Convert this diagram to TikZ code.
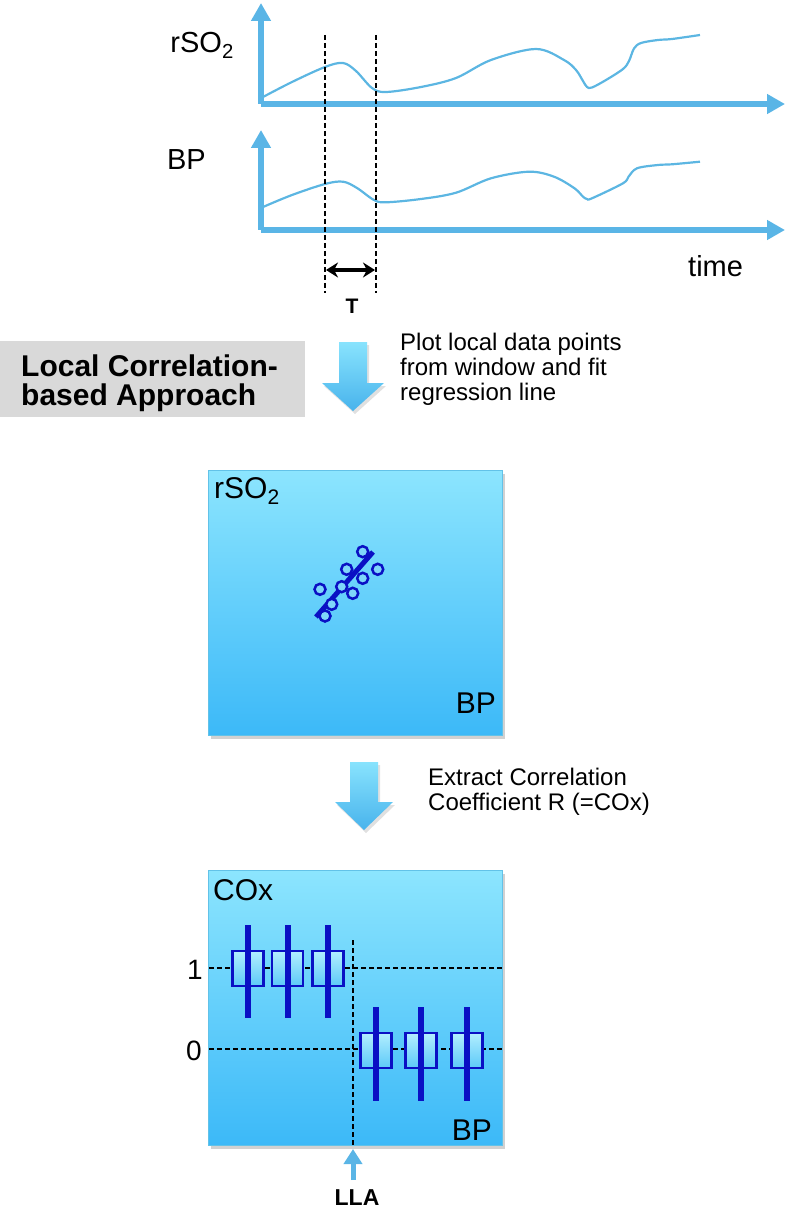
\documentclass[tikz,border=0pt]{standalone}
\usepackage{fontspec}
\setmainfont{Liberation Sans}
\usetikzlibrary{arrows.meta}
\definecolor{axisblue}{HTML}{5AB5E6}
\definecolor{curveblue}{HTML}{5CB6E2}
\definecolor{boxtop}{HTML}{8CE5FE}
\definecolor{boxbot}{HTML}{3CB9F8}
\definecolor{boxedge}{HTML}{62C2E8}
\definecolor{darkblue}{HTML}{0A10C4}
\definecolor{ptfill}{HTML}{7FD6FA}
\definecolor{graybox}{HTML}{D9D9D9}
\definecolor{arrtop}{HTML}{88E3FD}
\definecolor{arrbot}{HTML}{48B3EC}
\definecolor{bxtop}{HTML}{B2EEFF}
\definecolor{bxbot}{HTML}{5CC9F8}
\tikzset{
  axis/.style={axisblue, line width=6, -{Triangle[width=19,length=18]}},
  curve/.style={curveblue, line width=2.2},
  dashline/.style={black, line width=1.8, dash pattern=on 5 off 3},
  lbl/.style={inner sep=0, font=\fontsize{29}{34}\selectfont},
  note/.style={inner sep=0, align=left, font=\fontsize{24}{25}\selectfont},
  bigarrow/.style={top color=arrtop, bottom color=arrbot, draw=none},
  shadowbox/.style={fill=black, opacity=0.18},
  panel/.style={top color=boxtop, bottom color=boxbot},
  paneledge/.style={draw=boxedge, line width=1},
  bxp/.style={draw=darkblue, line width=2.2, top color=bxtop, bottom color=bxbot},
  whisk/.style={darkblue, line width=6},
  pt/.style={draw=darkblue, line width=2.5, fill=ptfill},
}
\begin{document}
\begin{tikzpicture}[x=1pt,y=-1pt]
\useasboundingbox (0,0) rectangle (786,1214);

% ---------- time series ----------
\coordinate (o1) at (261,104);
\coordinate (o2) at (261,230);
\draw[axis] (o1) -- (261,3);
\draw[axis] (o1) -- (785,104);
\draw[axis] (o2) -- (261,130);
\draw[axis] (o2) -- (785,230);

\draw[curve] plot[smooth, tension=0.55] coordinates {(263,97) (292,82) (325,67) (343,63) (356,71) (372,88) (386,92) (421,87) (456,78) (491,60) (536,49) (564,60) (576,70) (583,81) (587,87) (592,87.5) (606,80) (623,69) (629,61) (634,48.5) (641,43) (658,40) (672,39) (700,35)};
\draw[curve] plot[smooth, tension=0.55] coordinates {(263,207) (292,195) (325,184) (343,181.7) (357,188) (374,200) (386,202.3) (421,199) (456,192.7) (491,178.3) (529,171.7) (554,176.7) (574.5,188.3) (583,196.7) (587,199) (592,198.3) (623,183.3) (628.5,176.7) (637,168.3) (658,165) (672,164.3) (700,161.7)};

\node[lbl, anchor=base east] (rso) at (234,53) {rSO\textsubscript{2}};
\node[lbl, anchor=base east] (bp) at (206,170) {BP};
\node[lbl, anchor=base west] (time) at (688,277) {time};

\draw[dashline] (325,35) -- (325,293);
\draw[dashline] (376,35) -- (376,293);
\coordinate (wl) at (326,270);
\coordinate (wr) at (375,270);
\draw[black, line width=4, {Stealth[length=12,width=15]}-{Stealth[length=12,width=15]}] (wl) -- (wr);
\node[inner sep=0, anchor=base, font=\bfseries\fontsize{21}{24}\selectfont] (T) at (352,313) {T};

% ---------- approach label ----------
\fill[graybox] (0,341) rectangle (305,417);
\node[inner sep=0, anchor=base west, align=left, font=\bfseries\fontsize{30}{29}\selectfont] (lca) at (21,405) {Local Correlation-\\based Approach};

% big arrow 1
\fill[shadowbox, opacity=0.12] (341,345) -- (369,345) -- (369,386) -- (386,386) -- (355,414) -- (324,386) -- (341,386) -- cycle;
\shade[bigarrow] (339,342) -- (367,342) -- (367,383) -- (384,383) -- (353,411) -- (322,383) -- (339,383) -- cycle;
\node[note, anchor=north west] (plot) at (400,333) {Plot local data points\\from window and fit\\regression line};

% ---------- scatter panel ----------
\fill[shadowbox] (211,474) rectangle (505,739);
\shade[panel] (208,470) rectangle (502,735);
\draw[paneledge] (208,470) rectangle (502,735);
\node[inner sep=0, anchor=base west, font=\fontsize{30}{34}\selectfont] (rso2) at (214,498) {rSO\textsubscript{2}};
\node[inner sep=0, anchor=base east, font=\fontsize{30}{34}\selectfont] (bp2) at (496,713) {BP};

\draw[darkblue, line width=5] (316,617) -- (373,552);
\foreach \p in {(325,616),(331.7,604.3),(320,589.3),(341.7,586.7),(352.7,593.3),(346.7,569.3),(362.7,578.3),(362.7,551.7),(377.7,569.3)}
  \draw[pt] \p circle[radius=5.5];

% big arrow 2
\fill[shadowbox, opacity=0.12] (352,765) -- (380,765) -- (380,805) -- (395,805) -- (366,833) -- (337,805) -- (352,805) -- cycle;
\shade[bigarrow] (350,762) -- (378,762) -- (378,802) -- (393,802) -- (364,830) -- (335,802) -- (350,802) -- cycle;
\node[note, anchor=north west] (extr) at (428,768) {Extract Correlation\\Coefficient R (=COx)};

% ---------- COx panel ----------
\fill[shadowbox] (211,874) rectangle (505,1149);
\shade[panel] (208,870) rectangle (502,1145);
\draw[paneledge] (208,870) rectangle (502,1145);
\node[inner sep=0, anchor=base west, font=\fontsize{30}{34}\selectfont] (cox) at (213,900) {COx};
\node[inner sep=0, anchor=base east, font=\fontsize{30}{34}\selectfont] (bp3) at (492,1140) {BP};
\node[inner sep=0, anchor=base east, font=\fontsize{28}{34}\selectfont] (one) at (203,979) {1};
\node[inner sep=0, anchor=base east, font=\fontsize{28}{34}\selectfont] (zero) at (202,1060) {0};

\draw[dashline] (209,968) -- (502,968);
\draw[dashline] (209,1049) -- (502,1049);
\coordinate (llatop) at (353,940);
\coordinate (llabot) at (353,1147);
\draw[dashline] (llatop) -- (llabot);

\foreach \c in {248,287.5,328} {
  \draw[bxp] (\c-15.5,951) rectangle (\c+15.5,986);
  \draw[whisk] (\c,925) -- (\c,1018);
}
\foreach \c in {376,421,467} {
  \draw[bxp] (\c-15.5,1033) rectangle (\c+15.5,1068);
  \draw[whisk] (\c,1007) -- (\c,1101);
}

\node[inner sep=0, anchor=base, font=\bfseries\fontsize{23}{26}\selectfont] (lla) at (357,1205) {LLA};
\coordinate (llastart) at (353,1180);
\draw[axisblue, line width=5, -{Triangle[width=18,length=15]}] (llastart) -- (353,1149);
\end{tikzpicture}
\end{document}
